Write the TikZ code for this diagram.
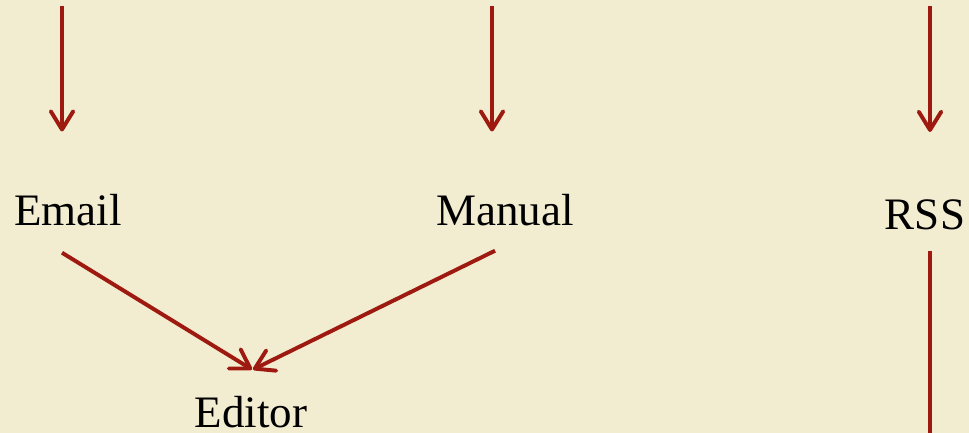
\documentclass[tikz,border=0pt]{standalone}
\usepackage{fontspec}
\setmainfont{Liberation Serif}
\usetikzlibrary{arrows.meta,calc}
\definecolor{parchment}{HTML}{F2ECD0}
\definecolor{flowred}{HTML}{9E1A10}
\tikzset{
  flow/.style={draw=flowred, line width=2.8pt, -{Straight Barb[length=13pt,width=16pt,round]}},
  flowline/.style={draw=flowred, line width=2.8pt},
  source/.style={inner sep=0pt, anchor=base, font=\fontsize{32}{38}\selectfont}
}
\begin{document}
\begin{tikzpicture}[x=0.025cm, y=-0.025cm]
  \fill[parchment] (0,0) rectangle (969,433);
  \useasboundingbox (0,0) rectangle (969,433);

  \node[source] (email) at (68,225) {Email};
  \node[source] (manual) at (505,225) {Manual};
  \node[source] (rss) at (925,230) {RSS};
  \node[source] (editor) at (251,427) {Editor};

  \coordinate (emailin) at (62,6);
  \coordinate (manualin) at (492,6);
  \coordinate (rssin) at (930,6);
  \coordinate (rssout) at (930,445);

  \draw[flow] (emailin) -- ($(email.north)+(-6,-62)$);
  \draw[flow] (manualin) -- ($(manual.north)+(-13,-62)$);
  \draw[flow] (rssin) -- ($(rss.north)+(5,-68)$);

  \draw[flow] ($(email.south)+(-6,27)$) -- ($(editor.north)+(1,-26)$);
  \draw[flow] ($(manual.south)+(-10,25)$) -- ($(editor.north)+(2,-26)$);
  \draw[flowline] ($(rss.south)+(5,20)$) -- (rssout);
\end{tikzpicture}
\end{document}
